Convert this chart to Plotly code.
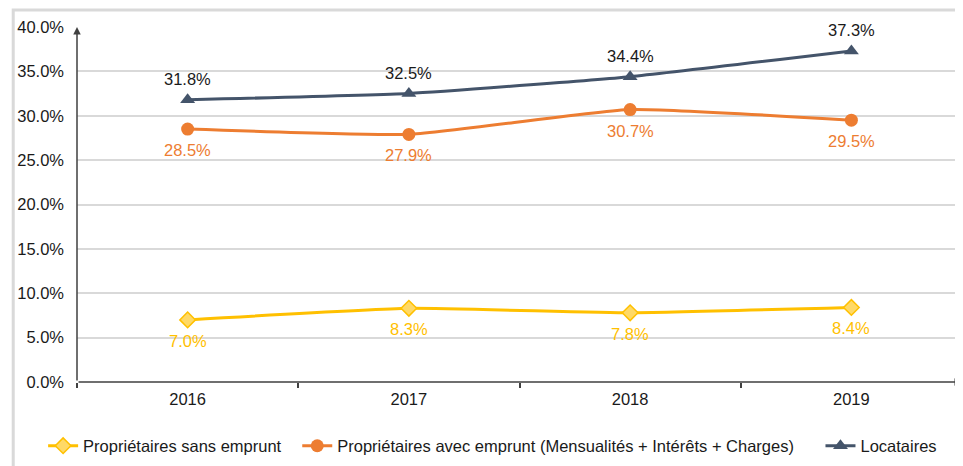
import plotly.graph_objects as go

years = ["2016", "2017", "2018", "2019"]
sans_emprunt = [7.0, 8.3, 7.8, 8.4]
avec_emprunt = [28.5, 27.9, 30.7, 29.5]
locataires = [31.8, 32.5, 34.4, 37.3]
y_ticks = [0, 5, 10, 15, 20, 25, 30, 35, 40]

# page offset of the figure (default body margin)
OFF = 8
W, H = 963, 466
# target plot area in page pixels: x 74..962, y 27..382
L, T = 74 - OFF, 27 - OFF
R = W - (962 - OFF)
B = H - (382 - OFF)
pw, ph = W - L - R, H - T - B

FONT = "Liberation Sans, Arial, sans-serif"
FS = 16.5
NAVY = "#44546A"
ORANGE = "#ED7D31"
YELLOW = "#FFC000"


def py(page_y):
    fig_y = page_y - OFF
    return (T + ph - fig_y) / ph


def px(page_x):
    fig_x = page_x - OFF
    return (fig_x - L) / pw


fig = go.Figure()
series = [
    ("Propriétaires sans emprunt", sans_emprunt, YELLOW,
     dict(symbol="diamond", size=12, color="#FFD966", line=dict(color=YELLOW, width=1.5)),
     YELLOW, -21, "legend"),
    ("Propriétaires avec emprunt (Mensualités + Intérêts + Charges)", avec_emprunt, ORANGE,
     dict(symbol="circle", size=13, color=ORANGE), ORANGE, -21, "legend2"),
    ("Locataires", locataires, NAVY,
     dict(symbol="triangle-up", size=13, color=NAVY), "#1a1a1a", 21, "legend3"),
]

annotations = []
for name, vals, col, mk, tcol, shift, lg in series:
    fig.add_trace(go.Scatter(
        x=years, y=vals, name=name, mode="lines+markers",
        line=dict(color=col, width=3, shape="spline", smoothing=0.4),
        marker=mk, legend=lg,
    ))
    for i, yv in enumerate(vals):
        annotations.append(dict(x=i, y=yv, xref="x", yref="y", text=f"{yv:.1f}%",
                                showarrow=False, yshift=shift,
                                font=dict(color=tcol, size=FS, family=FONT)))

annotations += [
    dict(x=3.5, y=0, ax=-0.5, ay=0, xref="x", yref="y", axref="x", ayref="y",
         showarrow=True, arrowhead=2, arrowsize=1, arrowwidth=1.5, arrowcolor="#404040", text=""),
    dict(x=-0.5, y=40, ax=-0.5, ay=0, xref="x", yref="y", axref="x", ayref="y",
         showarrow=True, arrowhead=2, arrowsize=1, arrowwidth=1.5, arrowcolor="#404040", text=""),
]

leg_common = dict(orientation="h", xanchor="left", y=py(446), yanchor="middle",
                  font=dict(size=FS, family=FONT), itemwidth=30, bgcolor="rgba(0,0,0,0)")

fig.update_layout(
    width=W, height=H,
    margin=dict(l=L, r=R, t=T, b=B),
    plot_bgcolor="white", paper_bgcolor="white",
    font=dict(family=FONT, size=FS, color="#1a1a1a"),
    showlegend=True,
    legend=dict(x=px(50 - 10), **leg_common),
    legend2=dict(x=px(305 - 10), **leg_common),
    legend3=dict(x=px(830 - 10), **leg_common),
    xaxis=dict(type="category", range=[-0.5, 3.5], showgrid=False, zeroline=False,
               showline=False, ticks="outside", tickson="boundaries", ticklen=5,
               tickcolor="#404040", tickwidth=1.5, tickfont=dict(size=FS),
               ticklabelstandoff=5),
    yaxis=dict(range=[0, 40], tickvals=y_ticks, ticktext=[f"{v:.1f}%" for v in y_ticks],
               showgrid=True, gridcolor="#D9D9D9", gridwidth=1.5, zeroline=False,
               showline=False, ticks="", tickfont=dict(size=FS), ticklabelstandoff=12),
    shapes=[dict(type="rect", xref="paper", yref="paper",
                 x0=px(10), x1=px(W + 30),
                 y0=py(H + 30), y1=py(10),
                 line=dict(color="#D9D9D9", width=3), fillcolor="rgba(0,0,0,0)", layer="below")],
    annotations=annotations,
)

fig.write_html("out.html")
